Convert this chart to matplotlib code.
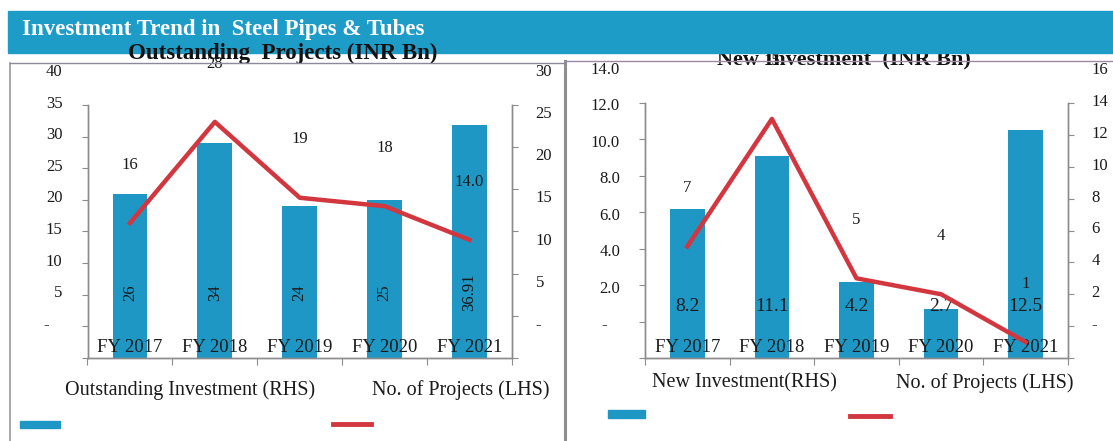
import matplotlib
matplotlib.use("Agg")
import matplotlib.pyplot as plt
import numpy as np
from matplotlib.patches import Rectangle
from matplotlib.lines import Line2D
from matplotlib.transforms import ScaledTranslation
from matplotlib.ticker import FuncFormatter

plt.rcParams['font.family'] = ['Liberation Serif', 'DejaVu Serif']

years = ['FY 2017', 'FY 2018', 'FY 2019', 'FY 2020', 'FY 2021']

# Outstanding projects panel
out_invest = [26, 34, 24, 25, 36.91]
out_invest_lbl = ['26', '34', '24', '25', '36.91']
out_projects = [16, 28, 19, 18, 14]
out_projects_lbl = ['16', '28', '19', '18', '14.0']

# New investment panel
new_invest = [8.2, 11.1, 4.2, 2.7, 12.5]
new_projects = [7, 15, 5, 4, 1]

BLUE = '#1f97c4'
RED = '#d2373f'
GREY = '#8c8c8c'
TXT = '#1a1a1a'

W, H = 1113, 441
fig = plt.figure(figsize=(W / 100, H / 100), dpi=100)


def fx(x):
    return x / W


def fy(y):
    return 1 - y / H


def make_axes(x0, x1, ytop, ybot):
    return fig.add_axes([fx(x0), fy(ybot), fx(x1) - fx(x0), (ybot - ytop) / H])


def zero_dash(fmt):
    return FuncFormatter(lambda v, p: '-   ' if abs(v) < 1e-9 else fmt.format(v))


def style_panel(ax, ax2, left_ticks, right_ticks, left_fmt, right_fmt):
    x = np.arange(len(years))
    ax.set_axisbelow(False)
    ax.set_xlim(-0.5, len(years) - 0.5)
    ax.set_xticks(np.arange(len(years) + 1) - 0.5, [''] * (len(years) + 1))
    ax.set_xticks(x, years, minor=True)
    ax.tick_params(axis='x', which='major', direction='out', length=5, color=GREY)
    ax.tick_params(axis='x', which='minor', length=0, pad=2, labelsize=13.5, labelcolor=TXT)

    ax.set_ylim(left_ticks[0], left_ticks[-1])
    ax.set_yticks(left_ticks)
    ax.yaxis.set_major_formatter(zero_dash(left_fmt))
    ax.tick_params(axis='y', direction='out', length=4, color=GREY, pad=14,
                   labelsize=12, labelcolor=TXT)

    ax2.set_ylim(right_ticks[0], right_ticks[-1])
    ax2.set_yticks(right_ticks)
    ax2.yaxis.set_major_formatter(zero_dash(right_fmt))
    ax2.tick_params(axis='y', direction='out', length=4, color=GREY, pad=13,
                    labelsize=12, labelcolor=TXT)

    for a in (ax, ax2):
        a.spines['top'].set_visible(False)
        for s in ('left', 'right', 'bottom'):
            a.spines[s].set_color(GREY)
            a.spines[s].set_linewidth(1)
        a.patch.set_alpha(0)

    # Excel rendering glitch: tick labels drawn shifted upward
    up = ScaledTranslation(0, 0.35, fig.dpi_scale_trans)
    for a in (ax, ax2):
        for lab in a.get_yticklabels():
            lab.set_transform(lab.get_transform() + up)
    upx = ScaledTranslation(0, 0.215, fig.dpi_scale_trans)
    for lab in ax.xaxis.get_minorticklabels():
        lab.set_transform(lab.get_transform() + upx)


# ---------------- frame, header ----------------
fig.add_artist(Line2D([fx(10), fx(10)], [fy(63), 0], color='#9a9a9a', lw=1.2))
fig.add_artist(Line2D([fx(10), fx(565)], [fy(63), fy(63)], color='#8a8a9a', lw=1, zorder=8))
fig.add_artist(Line2D([fx(565), fx(1113)], [fy(61), fy(61)], color='#9a8aa8', lw=1, zorder=8))
fig.add_artist(Line2D([fx(565), fx(565)], [fy(61), 0], color='#8f8f8f', lw=2.2))

fig.text(fx(283), fy(53), 'Outstanding  Projects (INR Bn)', ha='center', va='center',
         fontsize=16.5, fontweight='bold', color='#111111', zorder=7)
fig.text(fx(844), fy(60), 'New Investment  (INR Bn)', ha='center', va='center',
         fontsize=16, fontweight='bold', color='#111111', zorder=1)

fig.add_artist(Rectangle((fx(8), fy(53)), 1 - fx(8), (53 - 11) / H,
                         transform=fig.transFigure, color='#1e9cc8', zorder=5))
fig.text(fx(22), fy(29), 'Investment Trend in  Steel Pipes & Tubes', ha='left', va='center',
         fontsize=16.5, fontweight='bold', color='white', zorder=6)

# ---------------- left panel ----------------
x = np.arange(len(years))
ax1 = make_axes(87.5, 512, 105, 358)
ax1b = ax1.twinx()
ax1.bar(x, out_invest, width=0.41, color=BLUE, zorder=2)
ax1b.plot(x, out_projects, color=RED, lw=3.2, zorder=3)
style_panel(ax1, ax1b, np.arange(0, 41, 5), np.arange(0, 31, 5), '{:.0f}', '{:.0f}')
for i, lab in enumerate(out_invest_lbl):
    ax1.annotate(lab, (x[i], 0), xytext=(0, 47), textcoords='offset points',
                 ha='center', va='center', rotation=90, fontsize=12, color=TXT, zorder=4)
for i, lab in enumerate(out_projects_lbl):
    ax1b.annotate(lab, (x[i], out_projects[i]), xytext=(0, 42), textcoords='offset points',
                  ha='center', va='center', fontsize=12, color=TXT)

# ---------------- right panel ----------------
ax2 = make_axes(645, 1068, 103, 358)
ax2b = ax2.twinx()
ax2.bar(x, new_invest, width=0.41, color=BLUE, zorder=2)
ax2b.plot(x, new_projects, color=RED, lw=3.2, zorder=3)
style_panel(ax2, ax2b, np.arange(0, 15, 2), np.arange(0, 17, 2), '{:.1f}', '{:.0f}')
for i, v in enumerate(new_invest):
    ax2.annotate(f'{v:.1f}', (x[i], 0), xytext=(0, 37), textcoords='offset points',
                 ha='center', va='center', fontsize=14, color=TXT, zorder=4)
for i, v in enumerate(new_projects):
    ax2b.annotate(f'{v}', (x[i], v), xytext=(0, 42), textcoords='offset points',
                  ha='center', va='center', fontsize=12, color=TXT)

# ---------------- legends (Excel layout: text above the keys) ----------------
fig.text(fx(190), fy(390), 'Outstanding Investment (RHS)', ha='center', va='center',
         fontsize=14.5, color=TXT)
fig.text(fx(461), fy(390), 'No. of Projects (LHS)', ha='center', va='center',
         fontsize=14.5, color=TXT)
fig.add_artist(Rectangle((fx(20), fy(428)), fx(60) - fx(20), 7 / H,
                         transform=fig.transFigure, color=BLUE))
fig.add_artist(Line2D([fx(333), fx(371)], [fy(424), fy(424)], color=RED, lw=3.5))

fig.text(fx(744), fy(383), 'New Investment(RHS)', ha='center', va='center',
         fontsize=14.5, color=TXT)
fig.text(fx(985), fy(383), 'No. of Projects (LHS)', ha='center', va='center',
         fontsize=14.5, color=TXT)
fig.add_artist(Rectangle((fx(608), fy(418)), fx(645) - fx(608), 8 / H,
                         transform=fig.transFigure, color=BLUE))
fig.add_artist(Line2D([fx(850), fx(890)], [fy(416), fy(416)], color=RED, lw=3.5))

fig.savefig('out.png', dpi=100)
